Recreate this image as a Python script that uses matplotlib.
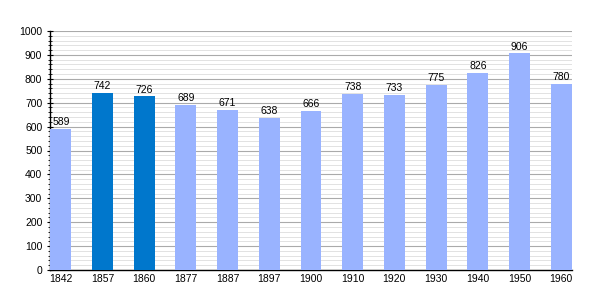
import matplotlib
matplotlib.use("Agg")
import matplotlib.pyplot as plt
from matplotlib.ticker import MultipleLocator

years = ["1842", "1857", "1860", "1877", "1887", "1897", "1900", "1910", "1920", "1930", "1940", "1950", "1960"]
population = [589, 742, 726, 689, 671, 638, 666, 738, 733, 775, 826, 906, 780]
highlight = ["1857", "1860"]

light = "#99b3ff"
dark = "#0077cc"

fig = plt.figure(figsize=(6, 3), dpi=100)
ax = fig.add_axes([50/600, 30/300, 522/600, 239/300])

x = list(range(len(years)))
colors = [dark if y in highlight else light for y in years]
ax.bar(x, population, width=0.5, color=colors, zorder=3)
for xi, v in zip(x, population):
    ax.text(xi, v + 8, str(v), ha="center", va="bottom", fontsize=7.5, family="Liberation Sans", zorder=4)

ax.set_xlim(-0.26, len(years) - 0.74)
ax.set_ylim(0, 1000)
ax.set_xticks(x)
ax.set_xticklabels(years, family="Liberation Sans", fontsize=7.5)
ax.yaxis.set_major_locator(MultipleLocator(100))
ax.yaxis.set_minor_locator(MultipleLocator(20))
for lab in ax.get_yticklabels():
    lab.set_family("Liberation Sans")
    lab.set_fontsize(7.5)
ax.grid(axis="y", which="major", color="#aaaaaa", linewidth=0.8, zorder=1)
ax.grid(axis="y", which="minor", color="#dddddd", linewidth=0.6, zorder=1)
ax.tick_params(axis="x", length=0, pad=3)
ax.tick_params(axis="y", which="major", length=4, width=0.8, direction="inout")
ax.tick_params(axis="y", which="minor", length=2.5, width=0.6, direction="inout")
for s in ["top", "right"]:
    ax.spines[s].set_visible(False)
ax.spines["left"].set_linewidth(1)
ax.spines["bottom"].set_linewidth(1)

fig.savefig("out.png", dpi=100)
